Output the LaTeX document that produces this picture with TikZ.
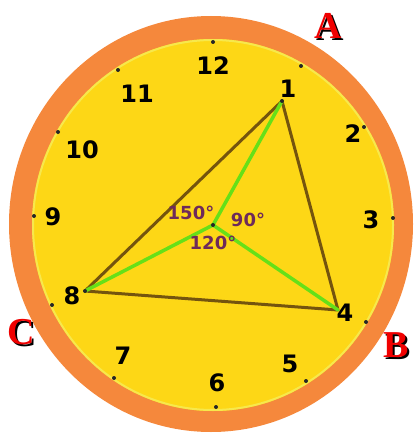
\documentclass[tikz,border=0pt]{standalone}
\usepackage{fontspec}
\setmainfont{DejaVu Sans}
\newfontfamily\numfont{DejaVu Sans}
\newfontfamily\letfont{Liberation Serif}
\usetikzlibrary{calc}
\definecolor{orangeR}{HTML}{F5883C}
\definecolor{yellowF}{HTML}{FDD716}
\definecolor{paleY}{HTML}{F7E84C}
\definecolor{brownL}{HTML}{74540E}
\definecolor{greenL}{HTML}{66E018}
\definecolor{purpleT}{HTML}{6E2A5A}
\definecolor{redL}{HTML}{F00000}
\tikzset{
  num/.style={font=\numfont\bfseries\fontsize{24}{24}\selectfont, text=black, inner sep=0pt},
  deg/.style={font=\numfont\bfseries\fontsize{18}{18}\selectfont, text=purpleT, inner sep=0pt},
  tick/.style={circle, fill=black!85, inner sep=0pt, minimum size=4pt},
  vtx/.style={circle, fill=black!85, inner sep=0pt, minimum size=4pt},
  side/.style={brownL, line width=3pt},
  spoke/.style={greenL, line width=3.5pt},
  letter/.style={font=\letfont\bfseries\fontsize{38}{38}\selectfont, text=redL, inner sep=0pt},
}
\newcommand{\shadowed}[1]{\rlap{\hspace{1.8pt}\raisebox{-1.8pt}{\textcolor{black}{#1}}}#1}
\begin{document}
\begin{tikzpicture}[x=1pt,y=-1pt]
\useasboundingbox (0,0) rectangle (414,433);
% clock face
\fill[orangeR] (211,224) ellipse [x radius=202, y radius=208];
\fill[yellowF] (213,225) ellipse [x radius=181, y radius=186];
\draw[paleY, line width=2pt] (213,225) ellipse [x radius=180, y radius=185];
% hour ticks
\foreach \p in {(213,42),(301,66),(364,127),(393,218),(366,322),(306,381),(216,407),(114,378),(52,305),(34,216),(58,132),(118,70)}
  \node[tick] at \p {};
% numbers
\node[num] (n12) at (213,66) {12};
\node[num] (n11) at (137,94) {11};
\node[num] (n10) at (82,150) {10};
\node[num] (n9) at (53,217) {9};
\node[num] (n8) at (72,296) {8};
\node[num] (n7) at (123,356) {7};
\node[num] (n6) at (217,383) {6};
\node[num] (n5) at (290,364) {5};
\node[num] (n4) at (345,313) {4};
\node[num] (n3) at (371,220) {3};
\node[num] (n2) at (353,134) {2};
\node[num] (n1) at (288,89) {1};
% triangle vertices
\coordinate (P1) at (282,101);
\coordinate (P8) at (85,291);
\coordinate (P4) at (338,310);
\coordinate (O) at (213,225);
\draw[side, line join=round] (P1) -- (P4) -- (P8) -- cycle;
\draw[spoke, line cap=round] (O) -- (P1);
\draw[spoke, line cap=round] (O) -- (P4);
\draw[spoke, line cap=round] (O) -- (P8);
\node[vtx] (v1) at (P1) {};
\node[vtx] (v8) at (P8) {};
\node[vtx] (vo) at (O) {};
% angle labels
\node[deg] (a150) at (191,213) {150°};
\node[deg] (a90) at (248,220) {90°};
\node[deg] (a120) at (213,243) {120°};
% letters
\node[letter] (A) at (328,27) {\shadowed{A}};
\node[letter] (B) at (396,346) {\shadowed{B}};
\node[letter] (C) at (21,333) {\shadowed{C}};
\end{tikzpicture}
\end{document}
